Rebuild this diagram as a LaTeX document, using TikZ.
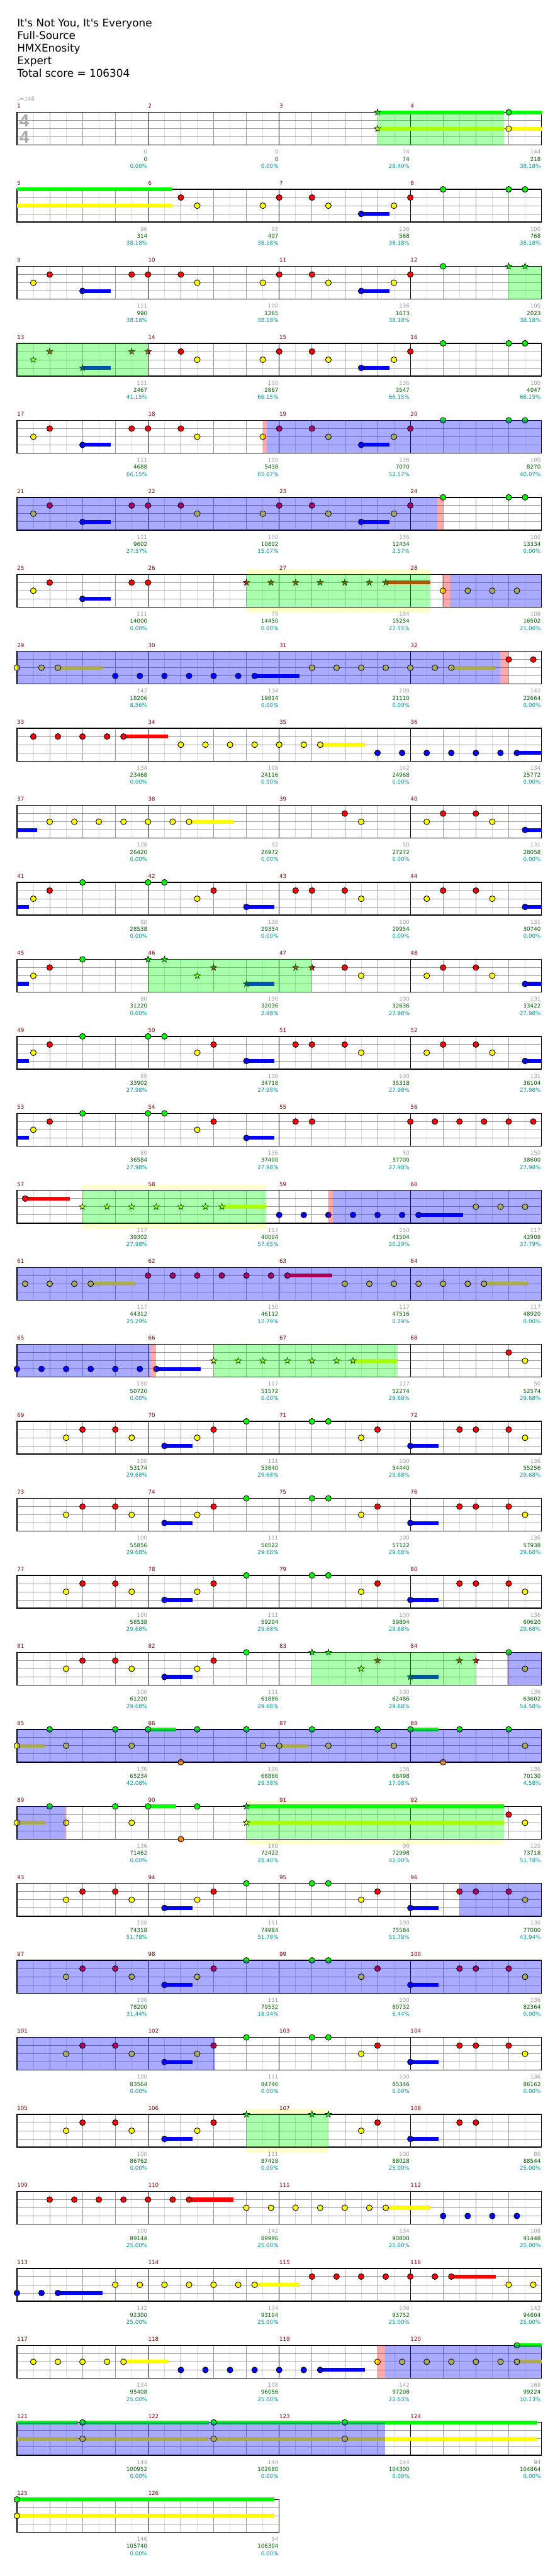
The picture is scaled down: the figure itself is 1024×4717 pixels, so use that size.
\documentclass[tikz,border=0pt]{standalone}
\usepackage{fontspec}
\setmainfont{DejaVu Sans}
\newfontfamily\sigfont{Liberation Sans}

\definecolor{ln0}{RGB}{0,255,0}
\definecolor{ln1}{RGB}{255,0,0}
\definecolor{ln2}{RGB}{255,255,0}
\definecolor{ln3}{RGB}{0,0,255}
\definecolor{ln4}{RGB}{255,140,0}
\definecolor{barred}{RGB}{136,0,0}
\definecolor{ptgray}{RGB}{160,160,160}
\definecolor{totgreen}{RGB}{0,100,0}
\definecolor{pcteal}{RGB}{0,153,153}
\definecolor{gridlt}{RGB}{221,221,221}
\definecolor{griddk}{RGB}{153,153,153}
\definecolor{sigray}{RGB}{170,170,170}
\definecolor{whamyel}{RGB}{255,255,204}

% pixel grid: 30 per eighth, 141 per row, 15 per lane
\newcommand\xp[1]{31+30*(#1)}
\newcommand\yp[2]{205.7+141*(#1)+15*(#2)}

% gems: row, position, lane
\newcommand\gem[3]{\filldraw[gem=ln#3] ({\xp{#2}},{\yp{#1}{#3}}) circle[radius=2.65pt];}
\newcommand\stargem[3]{\filldraw[stargem=ln#3] ({\xp{#2}},{\yp{#1}{#3}})
  +(90:3pt) -- +(126:1.2pt) -- +(162:3pt) -- +(198:1.2pt) -- +(234:3pt) -- +(270:1.2pt)
  -- +(306:3pt) -- +(342:1.2pt) -- +(18:3pt) -- +(54:1.2pt) -- cycle;}
\newcommand\sus[4]{\fill[ln#4] ({\xp{#2}},{\yp{#1}{#4}-3.5}) rectangle ({\xp{#3}},{\yp{#1}{#4}+3.5});}
\newcommand\gems[2]{\foreach \pos/\lane in {#2}{\gem{#1}{\pos}{\lane}}}
\newcommand\stars[2]{\foreach \pos/\lane in {#2}{\stargem{#1}{\pos}{\lane}}}
\newcommand\suss[2]{\foreach \ps/\pe/\lane in {#2}{\sus{#1}{\ps}{\pe}{\lane}}}

% riffs that come back
\newcommand\riffA[1]{\suss{#1}{4/5.72/3}\gems{#1}{1/2,2/1,4/3,7/1}}
\newcommand\riffB[1]{\gems{#1}{8/1,10/1,11/2,15/2}}
\newcommand\riffC[1]{\suss{#1}{21/22.72/3}\gems{#1}{16/1,18/1,19/2,21/3,23/2}}
\newcommand\riffD[1]{\gems{#1}{24/1,26/0,30/0,31/0}}
\newcommand\riffE[1]{\suss{#1}{0/0.72/3,14/15.72/3}\gems{#1}{1/2,2/1,4/0,8/0,9/0,11/2,12/1,14/3}}
\newcommand\riffF[1]{\suss{#1}{31/32/3}\gems{#1}{17/1,18/1,20/1,21/2,25/2,26/1,28/1,29/2,31/3}}
\newcommand\riffG[1]{\suss{#1}{9/10.73/3,24/25.72/3}%
  \gems{#1}{3/2,4/1,6/1,7/2,9/3,11/2,12/1,14/0,18/0,19/0,21/2,22/1,24/3,27/1,28/1,30/1,31/2}}

\begin{document}
\begin{tikzpicture}[x=0.5pt,y=-0.5pt,
  gem/.style={fill=#1,draw=black,line width=0.5pt},
  stargem/.style={fill=#1,draw=black,line width=0.4pt,line join=miter},
  headline/.style={anchor=base west,inner sep=0pt,font=\fontsize{9.7}{11}\selectfont},
  barnum/.style={anchor=base west,inner sep=0pt,text=barred,font=\fontsize{5}{6}\selectfont},
  pts/.style={anchor=base east,inner sep=0pt,font=\fontsize{5}{6}\selectfont},
  sigdigit/.style={inner sep=0pt,text=sigray,font={\sigfont\bfseries\fontsize{16}{16}\selectfont}}]
\useasboundingbox (0,0) rectangle (1024,4717);
\fill[white] (0,0) rectangle (1024,4717);

% heading
\node[headline] (song) at (31,49) {It\textquotesingle s Not You, It\textquotesingle s Everyone};
\node[headline] (source) at (31,72) {Full-Source};
\node[headline] (chart) at (31,95) {HMXEnosity};
\node[headline] (level) at (31,118) {Expert};
\node[headline] (total) at (31,141) {Total score = 106304};

% whammy backgrounds
\foreach \rw/\ps/\pe in {6/14/25.23,14/4/15.22,22/14/29.71,26/14/19}
  \fill[whamyel] ({\xp{\ps}},{195.7+141*\rw}) rectangle ({\xp{\pe}},{275.7+141*\rw});

% staves
\foreach \rw in {0,...,31} {
  \pgfmathsetmacro\yt{205.7+141*\rw}
  \pgfmathtruncatemacro\nh{\rw==31 ? 16 : 32}
  \pgfmathtruncatemacro\nl{\nh-1}
  \pgfmathsetmacro\xe{31+30*\nh}
  \fill[white] (31,\yt) rectangle (\xe,{\yt+60});
  \foreach \k in {1,3,...,\nl} \draw[gridlt,line width=0.5pt] ({31+30*\k},\yt) -- ++(0,60);
  \foreach \k in {2,4,...,\nl} \draw[griddk,line width=0.5pt] ({31+30*\k},\yt) -- ++(0,60);
  \foreach \j in {1,2,3} \draw[griddk,line width=0.5pt] (31,{\yt+15*\j}) -- (\xe,{\yt+15*\j});
  \foreach \k in {8,16,24} {\ifnum\k<\nh \draw[black,line width=0.5pt] ({31+30*\k},\yt) -- ++(0,60);\fi}
  \draw[black,line width=0.8pt] (31,\yt) rectangle (\xe,{\yt+60});
}

% time signature and tempo
\node[sigdigit] (sigtop) at (44.5,221) {4};
\node[sigdigit] (sigbot) at (44.5,250.5) {4};
\node[anchor=base west,inner sep=0pt,text=ptgray,font=\fontsize{5}{6}\selectfont] (tempo) at (31,185) {♩=148};

% notes, row by row
\suss{0}{22/29.73/0,22/29.73/2,30/32/0,30/32/2}
\stars{0}{22/0,22/2}
\gems{0}{30/0,30/2}

\suss{1}{0/9.49/0,0/9.49/2}
\gems{1}{10/1,11/2,15/2}
\riffC{1}\riffD{1}

\riffA{2}\riffB{2}\riffC{2}
\gems{2}{24/1,26/0}
\stars{2}{30/0,31/0}

\suss{3}{4/5.72/3}
\stars{3}{1/2,2/1,4/3,7/1,8/1}
\gems{3}{10/1,11/2,15/2}
\riffC{3}\riffD{3}

\foreach \rw in {4,5} {\riffA{\rw}\riffB{\rw}\riffC{\rw}\riffD{\rw}}

\riffA{6}
\gems{6}{8/1}
\suss{6}{22.5/25.23/1}
\stars{6}{14/1,15.5/1,17/1,18.5/1,20/1,21.5/1,22.5/1}
\gems{6}{26/2,27.5/2,29/2,30.5/2}

\suss{7}{2.5/5.22/2,14.5/17.22/3,26.5/29.21/2}
\gems{7}{0/2,1.5/2,2.5/2,6/3,7.5/3,9/3,10.5/3,12/3,13.5/3,14.5/3,18/2,19.5/2,21/2,22.5/2,24/2,25.5/2,26.5/2,30/1,31.5/1}

\suss{8}{6.5/9.23/1,18.5/21.22/2,30.5/32/3}
\gems{8}{1/1,2.5/1,4/1,5.5/1,6.5/1,10/2,11.5/2,13/2,14.5/2,16/2,17.5/2,18.5/2,22/3,23.5/3,25/3,26.5/3,28/3,29.5/3,30.5/3}

\suss{9}{0/1.22/3,10.5/13.21/2,31/32/3}
\gems{9}{2/2,3.5/2,5/2,6.5/2,8/2,9.5/2,10.5/2,20/1,21/2,25/2,26/1,28/1,29/2,31/3}

\riffE{10}\riffF{10}

\suss{11}{0/0.72/3,14/15.72/3,31/32/3}
\gems{11}{1/2,2/1,4/0}
\stars{11}{8/0,9/0,11/2,12/1,14/3,17/1,18/1}
\gems{11}{20/1,21/2,25/2,26/1,28/1,29/2,31/3}

\riffE{12}\riffF{12}

\riffE{13}
\gems{13}{17/1,18/1,24/1,25.5/1,27/1,28.5/1,30/1,31.5/1}

\suss{14}{0.5/3.22/1,12.5/15.22/2,24.5/27.21/3}
\gems{14}{0.5/1}
\stars{14}{4/2,5.5/2,7/2,8.5/2,10/2,11.5/2,12.5/2}
\gems{14}{16/3,17.5/3,19/3,20.5/3,22/3,23.5/3,24.5/3,28/2,29.5/2,31/2}

\suss{15}{4.5/7.23/2,16.5/19.22/1,28.5/31.21/2}
\gems{15}{0.5/2,2/2,3.5/2,4.5/2,8/1,9.5/1,11/1,12.5/1,14/1,15.5/1,16.5/1,20/2,21.5/2,23/2,24.5/2,26/2,27.5/2,28.5/2}

\suss{16}{8.5/11.21/3,20.5/23.23/2}
\gems{16}{0/3,1.5/3,3/3,4.5/3,6/3,7.5/3,8.5/3}
\stars{16}{12/2,13.5/2,15/2,16.5/2,18/2,19.5/2,20.5/2}
\gems{16}{30/1,31/2}

\foreach \rw in {17,18,19,23,24,25} {\riffG{\rw}}

\suss{20}{9/10.73/3,24/25.72/3}
\gems{20}{3/2,4/1,6/1,7/2,9/3,11/2,12/1,14/0}
\stars{20}{18/0,19/0,21/2,22/1,24/3,27/1,28/1}
\gems{20}{30/0,31/2}

\suss{21}{8/9.71/0,24/25.71/0,0/1.72/2,16/17.72/2}
\gems{21}{2/0,6/0,8/0,11/0,14/0,18/0,22/0,24/0,27/0,30/0,0/2,3/2,7/2,15/2,16/2,19/2,23/2,31/2,10/4,26/4}

\suss{22}{8/9.71/0,0/1.72/2,14/29.71/0,14/29.71/2}
\gems{22}{2/0,6/0,8/0,11/0,0/2,3/2,7/2,10/4}
\stars{22}{14/0,14/2}
\gems{22}{30/1,31/2}

\suss{26}{9/10.73/3,24/25.72/3}
\gems{26}{3/2,4/1,6/1,7/2,9/3,11/2,12/1}
\stars{26}{14/0,18/0,19/0}
\gems{26}{21/2,22/1,24/3,27/1,28/1}

\suss{27}{10.5/13.21/1,22.5/25.23/2}
\gems{27}{2/1,3.5/1,5/1,6.5/1,8/1,9.5/1,10.5/1,14/2,15.5/2,17/2,18.5/2,20/2,21.5/2,22.5/2,26/3,27.5/3,29/3,30.5/3}

\suss{28}{2.5/5.22/3,14.5/17.22/2,26.5/29.21/1}
\gems{28}{0/3,1.5/3,2.5/3,6/2,7.5/2,9/2,10.5/2,12/2,13.5/2,14.5/2,18/1,19.5/1,21/1,22.5/1,24/1,25.5/1,26.5/1,30/2,31.5/2}

\suss{29}{6.5/9.23/2,18.5/21.22/3,30.5/32/2,30.5/32/0}
\gems{29}{1/2,2.5/2,4/2,5.5/2,6.5/2,10/3,11.5/3,13/3,14.5/3,16/3,17.5/3,18.5/3,22/2,23.5/2,25/2,26.5/2,28/2,29.5/2,30.5/2,30.5/0}

\suss{30}{0/3.72/0,0/3.72/2,4/11.71/0,4/11.71/2,12/19.72/0,12/19.72/2,20/31.72/0,20/31.72/2}
\gems{30}{4/0,4/2,12/0,12/2,20/0,20/2}

\suss{31}{0/15.72/0,0/15.72/2}
\gems{31}{0/0,0/2}

% star power phrases, activations and their edges
\foreach \rw/\ps/\pe in {0/22/29.73,2/30/32,3/0/8,6/14/25.23,11/8/18,14/4/15.22,16/12/23.23,20/18/28,22/14/29.71,26/14/19}
  \fill[ln0,fill opacity=0.333] ({\xp{\ps}},{\yp{\rw}{0}}) rectangle ({\xp{\pe}},{\yp{\rw}{4}});
\foreach \rw/\ps/\pe in {4/15.26/32,5/0/25.64,6/26.43/32,7/0/29.47,14/19.26/32,15/0/32,16/0/8.16,20/30/32,21/0/32,22/0/2.94,23/27/32,24/0/32,25/0/12.08,29/22.47/32,30/0/22.47}
  \fill[ln3,fill opacity=0.333] ({\xp{\ps}},{\yp{\rw}{0}}) rectangle ({\xp{\pe}},{\yp{\rw}{4}});
\foreach \rw/\ps/\pe in {4/15/15.26,5/25.64/26,6/25.97/26.43,7/29.47/30,14/19/19.26,16/8.16/8.49,20/29.9/30,22/2.94/3,29/22/22.47}
  \fill[ln1,fill opacity=0.333] ({\xp{\ps}},{\yp{\rw}{0}}) rectangle ({\xp{\pe}},{\yp{\rw}{4}});

% bar numbers and scores
\foreach \m/\sa/\sb/\sc in {1/0/0/0.00,2/0/0/0.00,3/74/74/28.40,4/144/218/38.18,
  5/96/314/38.18,6/93/407/38.18,7/136/568/38.18,8/100/768/38.18,
  9/111/990/38.18,10/100/1265/38.18,11/136/1673/38.18,12/100/2023/38.18,
  13/111/2467/41.15,14/100/2867/66.15,15/136/3547/66.15,16/100/4047/66.15,
  17/111/4688/66.15,18/100/5438/65.07,19/136/7070/52.57,20/100/8270/40.07,
  21/111/9602/27.57,22/100/10802/15.07,23/136/12434/2.57,24/100/13334/0.00,
  25/111/14000/0.00,26/75/14450/0.00,27/134/15254/27.55,28/108/16502/21.06,
  29/142/18206/8.56,30/134/19814/0.00,31/108/21110/0.00,32/142/22664/0.00,
  33/134/23468/0.00,34/108/24116/0.00,35/142/24968/0.00,36/134/25772/0.00,
  37/108/26420/0.00,38/92/26972/0.00,39/50/27272/0.00,40/131/28058/0.00,
  41/80/28538/0.00,42/136/29354/0.00,43/100/29954/0.00,44/131/30740/0.00,
  45/80/31220/0.00,46/136/32036/2.98,47/100/32636/27.98,48/131/33422/27.98,
  49/80/33902/27.98,50/136/34718/27.98,51/100/35318/27.98,52/131/36104/27.98,
  53/80/36584/27.98,54/136/37400/27.98,55/50/37700/27.98,56/150/38600/27.98,
  57/117/39302/27.98,58/117/40004/57.65,59/150/41504/50.29,60/117/42908/37.79,
  61/117/44312/25.29,62/150/46112/12.79,63/117/47516/0.29,64/117/48920/0.00,
  65/150/50720/0.00,66/117/51572/0.00,67/117/52274/29.68,68/50/52574/29.68,
  69/100/53174/29.68,70/111/53840/29.68,71/100/54440/29.68,72/136/55256/29.68,
  73/100/55856/29.68,74/111/56522/29.68,75/100/57122/29.68,76/136/57938/29.68,
  77/100/58538/29.68,78/111/59204/29.68,79/100/59804/29.68,80/136/60620/29.68,
  81/100/61220/29.68,82/111/61886/29.68,83/100/62486/29.68,84/136/63602/54.58,
  85/136/65234/42.08,86/136/66866/29.58,87/136/68498/17.08,88/136/70130/4.58,
  89/136/71462/0.00,90/160/72422/28.40,91/96/72998/42.00,92/120/73718/51.78,
  93/100/74318/51.78,94/111/74984/51.78,95/100/75584/51.78,96/136/77000/43.94,
  97/100/78200/31.44,98/111/79532/18.94,99/100/80732/6.44,100/136/82364/0.00,
  101/100/83564/0.00,102/111/84746/0.00,103/100/85346/0.00,104/136/86162/0.00,
  105/100/86762/0.00,106/111/87428/0.00,107/100/88028/25.00,108/86/88544/25.00,
  109/100/89144/25.00,110/142/89996/25.00,111/134/90800/25.00,112/108/91448/25.00,
  113/142/92300/25.00,114/134/93104/25.00,115/108/93752/25.00,116/142/94604/25.00,
  117/134/95408/25.00,118/108/96056/25.00,119/142/97208/22.63,120/168/99224/10.13,
  121/144/100952/0.00,122/144/102680/0.00,123/144/104300/0.00,124/94/104864/0.00,
  125/146/105740/0.00,126/94/106304/0.00} {
  \pgfmathtruncatemacro\rw{(\m-1)/4}
  \pgfmathsetmacro\xs{31+240*(\m-1-4*\rw)}
  \pgfmathsetmacro\yt{205.7+141*\rw}
  \node[barnum] (bar\m) at (\xs,{\yt-7.7}) {\m};
  \node[pts,text=ptgray] (pt\m) at ({\xs+239},{\yt+76.3}) {\sa};
  \node[pts,text=totgreen] (tot\m) at ({\xs+239},{\yt+89.3}) {\sb};
  \node[pts,text=pcteal] (pc\m) at ({\xs+239},{\yt+102.3}) {\sc\%};
}
\end{tikzpicture}
\end{document}
